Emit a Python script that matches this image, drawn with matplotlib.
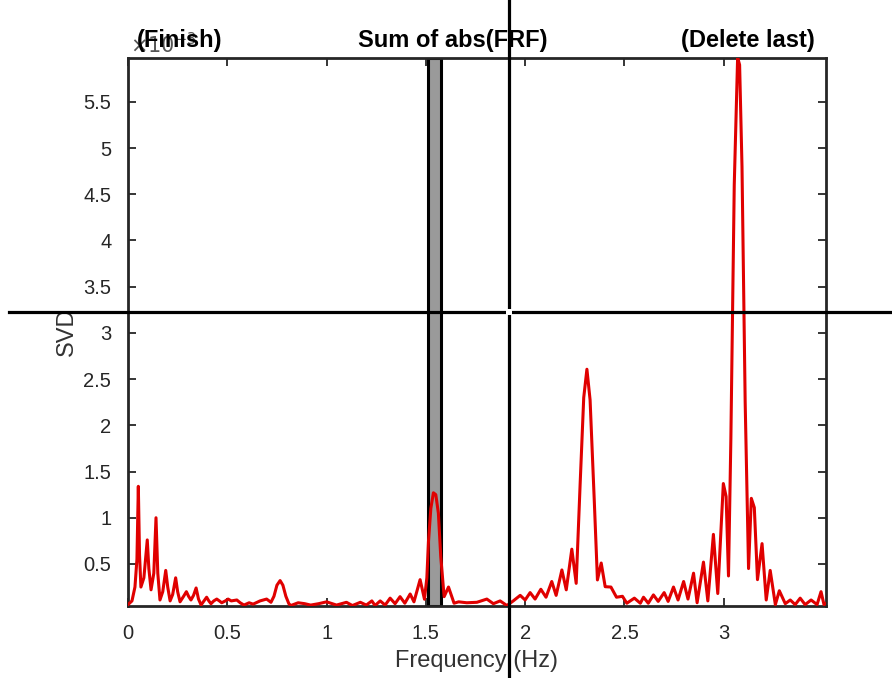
import numpy as np
import matplotlib
matplotlib.use("Agg")
import matplotlib.pyplot as plt

plt.rcParams["font.family"] = ["Liberation Sans", "DejaVu Sans"]

# frequency axis (Hz) and summed SVD values (x 1e-3)
freq = [0.0, 0.02, 0.035, 0.045, 0.052, 0.058, 0.065, 0.08, 0.097, 0.105,
        0.116, 0.13, 0.141, 0.15, 0.161, 0.175, 0.19, 0.2, 0.212, 0.225,
        0.24, 0.25, 0.262, 0.28, 0.294, 0.305, 0.317, 0.33, 0.343, 0.355,
        0.368, 0.383, 0.396, 0.407, 0.418, 0.432, 0.447, 0.46, 0.472, 0.49,
        0.504, 0.52, 0.548, 0.565, 0.584, 0.61, 0.63, 0.665, 0.698, 0.72,
        0.735, 0.75, 0.766, 0.78, 0.795, 0.81, 0.82, 0.857, 0.89, 0.92,
        0.96, 1.0, 1.05, 1.1, 1.13, 1.17, 1.2, 1.228, 1.244, 1.27,
        1.295, 1.32, 1.345, 1.37, 1.394, 1.421, 1.44, 1.471, 1.493, 1.505,
        1.513, 1.525, 1.538, 1.55, 1.563, 1.575, 1.592, 1.614, 1.642, 1.665,
        1.706, 1.757, 1.807, 1.84, 1.874, 1.908, 1.94, 1.975, 2.0, 2.025,
        2.05, 2.079, 2.105, 2.134, 2.156, 2.185, 2.207, 2.235, 2.257, 2.277,
        2.295, 2.311, 2.327, 2.348, 2.364, 2.383, 2.403, 2.432, 2.46, 2.49,
        2.512, 2.55, 2.58, 2.596, 2.62, 2.646, 2.67, 2.70, 2.72, 2.747,
        2.77, 2.798, 2.82, 2.848, 2.866, 2.898, 2.92, 2.948, 2.97, 2.998,
        3.012, 3.024, 3.036, 3.053, 3.07, 3.08, 3.092, 3.108, 3.125, 3.139,
        3.154, 3.17, 3.193, 3.214, 3.234, 3.26, 3.28, 3.31, 3.335, 3.36,
        3.385, 3.41, 3.44, 3.47, 3.49, 3.505, 3.52]

svd = [0.06, 0.10, 0.25, 0.55, 1.34, 0.6, 0.25, 0.35, 0.76, 0.45,
       0.22, 0.4, 1.0, 0.4, 0.11, 0.2, 0.43, 0.25, 0.10, 0.17,
       0.35, 0.2, 0.09, 0.15, 0.20, 0.15, 0.11, 0.16, 0.24, 0.12,
       0.056, 0.10, 0.14, 0.10, 0.07, 0.10, 0.12, 0.10, 0.08, 0.10,
       0.12, 0.10, 0.11, 0.08, 0.055, 0.08, 0.065, 0.10, 0.12, 0.085,
       0.15, 0.27, 0.32, 0.27, 0.15, 0.07, 0.05, 0.08, 0.07, 0.055,
       0.07, 0.09, 0.055, 0.085, 0.05, 0.085, 0.055, 0.10, 0.05, 0.10,
       0.055, 0.13, 0.07, 0.146, 0.075, 0.175, 0.09, 0.33, 0.118, 0.35,
       0.74, 1.1, 1.27, 1.25, 1.05, 0.58, 0.146, 0.25, 0.075, 0.09,
       0.08, 0.085, 0.12, 0.07, 0.10, 0.05, 0.10, 0.16, 0.11, 0.19,
       0.12, 0.226, 0.14, 0.31, 0.16, 0.435, 0.22, 0.66, 0.29, 1.37,
       2.3, 2.607, 2.275, 1.19, 0.327, 0.51, 0.254, 0.25, 0.14, 0.15,
       0.075, 0.13, 0.075, 0.14, 0.075, 0.165, 0.095, 0.19, 0.095, 0.25,
       0.11, 0.31, 0.12, 0.40, 0.08, 0.52, 0.10, 0.82, 0.18, 1.37,
       1.23, 0.37, 1.86, 4.6, 5.98, 5.9, 4.8, 2.25, 0.45, 1.21,
       1.11, 0.33, 0.72, 0.11, 0.43, 0.06, 0.21, 0.07, 0.11, 0.06,
       0.13, 0.06, 0.11, 0.06, 0.20, 0.06, 0.08]

xticks = [0, 0.5, 1, 1.5, 2, 2.5, 3]
xtick_labels = ["0", "0.5", "1", "1.5", "2", "2.5", "3"]
yticks = [0.5, 1, 1.5, 2, 2.5, 3, 3.5, 4, 4.5, 5, 5.5]
ytick_labels = ["0.5", "1", "1.5", "2", "2.5", "3", "3.5", "4", "4.5", "5", "5.5"]

band = (1.51, 1.577)        # selected frequency band
cursor = (1.921, 3.227)     # crosshair position (Hz, x1e-3)

grey = "#262626"

fig = plt.figure(figsize=(8.92, 6.78), dpi=100)
ax = fig.add_axes([0.1435, 0.1062, 0.7825, 0.8083])

ax.axvspan(band[0], band[1], facecolor="#9a9a9a", edgecolor="black",
           linewidth=2.2, zorder=1)
ax.plot(freq, svd, color="#e00000", linewidth=2.2, zorder=3)

ax.set_xlim(0, 3.515)
ax.set_ylim(0.045, 5.975)
ax.set_xticks(xticks)
ax.set_xticklabels(xtick_labels)
ax.set_yticks(yticks)
ax.set_yticklabels(ytick_labels)
ax.tick_params(direction="in", length=6, width=1.3, colors=grey,
               labelsize=14.5, top=True, right=True)
ax.tick_params(axis="y", pad=12)
ax.tick_params(axis="x", pad=13)
for s in ax.spines.values():
    s.set_linewidth(2)
    s.set_color(grey)

ax.set_xlabel("Frequency (Hz)", fontsize=17, color="#333333", labelpad=5)
ax.set_ylabel("SVD", fontsize=17, color="#333333", labelpad=4)

ax.text(0.003, 1.002, r"$\times10^{-3}$", transform=ax.transAxes,
        fontsize=15, color="#555555", ha="left", va="bottom")

# crosshair cursor extending past the axes
ax.axhline(cursor[1], xmin=-0.17, xmax=1.1, color="black", linewidth=2.3,
           clip_on=False, zorder=5)
ax.axvline(cursor[0], ymin=-0.135, ymax=1.11, color="black", linewidth=2.3,
           clip_on=False, zorder=5)
ax.plot(cursor[0], cursor[1], marker="s", markersize=5, color="white",
        markeredgewidth=0, zorder=6, clip_on=False)

fig.text(0.2018, 0.940, "(Finish)", fontsize=17, fontweight="bold",
         ha="center", va="center")
fig.text(0.508, 0.940, "Sum of abs(FRF)", fontsize=17, fontweight="bold",
         ha="center", va="center")
fig.text(0.8386, 0.940, "(Delete last)", fontsize=17, fontweight="bold",
         ha="center", va="center")

fig.savefig("out.png", dpi=100)
